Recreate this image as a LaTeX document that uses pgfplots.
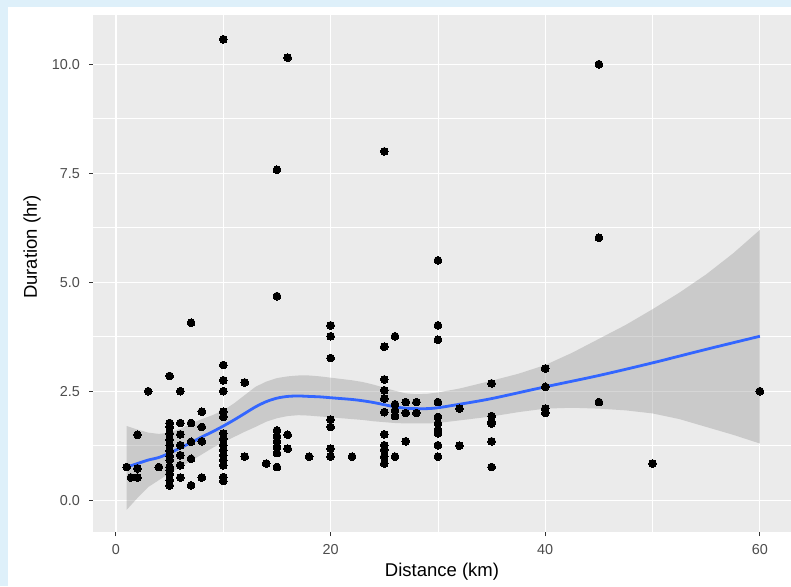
\documentclass[border=0pt]{standalone}
\usepackage{pgfplots}
\pgfplotsset{compat=1.18}
\usepackage{pgfplotstable}
\usepackage{fontspec}
\setmainfont{Liberation Sans}

\definecolor{frameblue}{HTML}{DEF0FA}
\definecolor{panelgrey}{HTML}{EBEBEB}
\definecolor{ribbongrey}{HTML}{999999}
\definecolor{smoothblue}{HTML}{3366FF}
\definecolor{ticktext}{HTML}{4D4D4D}
\definecolor{tickmark}{HTML}{333333}

% trips: distance (km) vs duration (hr)
\pgfplotstableread{
x y
1 0.76
1.4 0.52
2 1.50
2 0.73
2 0.52
3 2.50
4 0.76
5 2.85
5 1.77
5 1.68
5 1.53
5 1.39
5 1.26
5 1.13
5 1.01
5 0.92
5 0.76
5 0.69
5 0.60
5 0.46
5 0.34
6 2.50
6 1.77
6 1.51
6 1.26
6 1.03
6 0.80
6 0.52
7 4.07
7 1.77
7 1.34
7 0.95
7 0.34
8 2.03
8 1.68
8 1.35
8 0.52
10 10.57
10 3.10
10 2.75
10 2.50
10 2.03
10 1.91
10 1.53
10 1.41
10 1.26
10 1.15
10 1.03
10 0.92
10 0.80
10 0.53
10 0.44
12 2.70
12 1.00
14 0.84
15 7.58
15 4.68
15 1.60
15 1.47
15 1.35
15 1.22
15 1.08
15 0.76
16 10.15
16 1.50
16 1.18
18 1.00
20 4.01
20 3.76
20 3.26
20 1.85
20 1.68
20 1.18
20 1.00
22 1.00
25 8.00
25 3.52
25 2.77
25 2.52
25 2.33
25 2.02
25 1.51
25 1.26
25 1.16
25 1.00
25 0.84
26 3.76
26 2.20
26 2.06
26 1.93
26 1.00
27 2.25
27 2.00
27 1.35
28 2.25
28 2.00
30 5.50
30 4.01
30 3.68
30 2.25
30 1.91
30 1.76
30 1.61
30 1.53
30 1.26
30 1.00
32 2.10
32 1.25
35 2.68
35 1.93
35 1.80
35 1.76
35 1.35
35 0.76
40 3.02
40 2.60
40 2.10
40 2.00
45 10.00
45 6.02
45 2.25
50 0.84
60 2.50
}\trips

% loess fit
\pgfplotstableread{
x fit
1 0.76
2 0.84
3 0.92
4 0.98
5 1.08
6 1.20
7 1.32
8 1.45
9 1.57
10 1.70
11 1.84
12 1.99
13 2.14
14 2.26
15 2.34
16 2.38
17 2.39
18 2.38
19 2.37
20 2.35
21 2.33
22 2.31
23 2.28
24 2.24
25 2.19
26 2.14
27 2.11
28 2.10
29 2.10
30 2.12
32 2.20
35 2.33
40 2.60
45 2.86
50 3.15
55 3.46
60 3.76
}\smoothed

% confidence band: upper edge left to right, then lower edge right to left
\pgfplotstableread{
x y
1 1.70
2 1.62
3 1.55
4 1.52
5 1.55
6 1.64
7 1.75
8 1.86
9 1.95
10 2.06
11 2.22
12 2.41
13 2.60
14 2.72
15 2.80
16 2.84
17 2.86
18 2.86
19 2.84
20 2.81
21 2.78
22 2.75
23 2.71
24 2.65
25 2.58
26 2.51
27 2.45
28 2.43
29 2.44
30 2.47
32 2.56
35 2.74
37.5 2.90
40 3.10
42.5 3.38
45 3.70
47.5 4.02
50 4.38
52.5 4.76
55 5.18
57.5 5.66
60 6.20
60 1.30
57.5 1.50
55 1.68
52.5 1.86
50 1.99
47.5 2.06
45 2.10
42.5 2.12
40 2.10
37.5 2.02
35 1.92
32 1.83
30 1.77
29 1.76
28 1.76
27 1.76
26 1.77
25 1.79
24 1.81
23 1.84
22 1.86
21 1.88
20 1.90
19 1.92
18 1.94
17 1.95
16 1.93
15 1.88
14 1.80
13 1.68
12 1.57
11 1.45
10 1.33
9 1.20
8 1.05
7 0.90
6 0.76
5 0.62
4 0.46
3 0.30
2 0.05
1 -0.22
}\band

\begin{document}
\begin{tikzpicture}
\fill[frameblue] (0pt,0pt) rectangle (791pt,-586pt);
\fill[white] (8pt,-7pt) rectangle (791pt,-586pt);
\begin{axis}[
  at={(93pt,-532pt)}, anchor=south west,
  scale only axis,
  width=698pt, height=517.5pt,
  xmin=-2.14, xmax=62.9,
  ymin=-0.73, ymax=11.14,
  axis background/.style={fill=panelgrey},
  axis line style={draw=none},
  xtick={0,20,40,60},
  xticklabels={0,20,40,60},
  minor xtick={10,30,50},
  ytick={0,2.5,5,7.5,10},
  yticklabels={0.0,2.5,5.0,7.5,10.0},
  minor ytick={1.25,3.75,6.25,8.75},
  grid=both,
  major grid style={white, line width=1.1pt},
  minor grid style={white, line width=0.55pt},
  tick align=outside, tick pos=left,
  major tick length=4pt, minor tick length=0pt,
  tick style={tickmark, line width=1pt},
  xticklabel style={font=\fontsize{14.4}{16}\selectfont, text=ticktext, inner sep=0pt, anchor=north, yshift=-8pt},
  yticklabel style={font=\fontsize{14.4}{16}\selectfont, text=ticktext, inner sep=0pt, anchor=east, xshift=-9pt},
  xlabel={Distance (km)},
  ylabel={Duration (hr)},
  xlabel style={at={(axis description cs:0.5,-0.0773)}, anchor=center, font=\fontsize{18.5}{20}\selectfont},
  ylabel style={at={(axis description cs:-0.0874,0.5507)}, anchor=center, font=\fontsize{18.5}{20}\selectfont},
]
\addplot[only marks, mark=*, mark size=3.9pt, mark options={fill=black, draw=black, line width=0pt}] table[x=x, y=y] {\trips};
\addplot[fill=ribbongrey, fill opacity=0.4, draw=none] table[x=x, y=y] {\band} -- cycle;
\addplot[smoothblue, line width=2.8pt, smooth] table[x=x, y=fit] {\smoothed};
\end{axis}
\pgfresetboundingbox
\path (0pt,0pt) rectangle (791pt,-586pt);
\end{tikzpicture}
\end{document}
